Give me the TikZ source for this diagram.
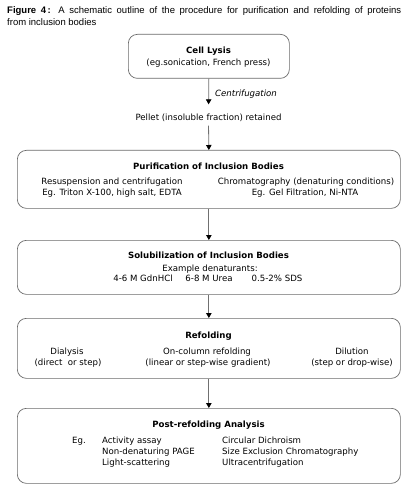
\documentclass[tikz,border=0pt]{standalone}
\usepackage{fontspec}
\setmainfont{DejaVu Sans}
\newfontfamily\capfont{Liberation Sans}
\usetikzlibrary{arrows.meta}
\definecolor{boxgray}{HTML}{6A6A6A}
\definecolor{arrgray}{HTML}{707070}
\begin{document}
\begin{tikzpicture}[x=1pt,y=-1pt,
  box/.style={draw=boxgray, rounded corners=9pt, line width=0.7pt, anchor=north west, inner sep=0pt},
  txt/.style={font=\fontsize{8.6}{10.5}\selectfont, inner sep=0pt, anchor=base},
  ttl/.style={font=\fontsize{8.6}{10.5}\selectfont\bfseries, inner sep=0pt, anchor=base},
  txtl/.style={txt, anchor=base west},
  arr/.style={draw=arrgray, line width=0.8pt, -{Triangle[length=5pt,width=5.5pt,color=black]}}]
\useasboundingbox (0,0) rectangle (414,494);
% caption
\node[anchor=north west, inner sep=0pt, text width=394pt, align=justify,
  font=\capfont\fontsize{9.5}{12}\selectfont] (cap) at (7,6)
  {\textbf{Figure 4\,:} A schematic outline of the procedure for purification and refolding of proteins\linebreak from inclusion bodies};
% boxes
\node[box, minimum width=161pt, minimum height=44pt] (b1) at (128,34) {};
\node[box, minimum width=383pt, minimum height=58pt] (b2) at (17,150) {};
\node[box, minimum width=383pt, minimum height=54pt] (b3) at (17,240) {};
\node[box, minimum width=383pt, minimum height=60pt] (b4) at (17,318) {};
\node[box, minimum width=383pt, minimum height=75pt] (b5) at (17,408) {};
% box 1
\node[ttl] (t1) at (208.5,54) {Cell Lysis};
\node[txt] (t1a) at (208.5,66) {(eg.sonication, French press)};
% pellet
\node[txt, anchor=center, text height=7pt, text depth=2pt] (pel) at (208.5,118) {Pellet (insoluble fraction) retained};
\node[txtl, font=\fontsize{8.6}{10.5}\selectfont\itshape] (cen) at (215,97) {Centrifugation};
% box 2
\node[ttl] (t2) at (208.5,170) {Purification of Inclusion Bodies};
\node[txt] (t2a) at (112,185) {Resuspension and centrifugation};
\node[txt] (t2b) at (112,195.5) {Eg. Triton X-100, high salt, EDTA};
\node[txt] (t2c) at (306,185) {Chromatography (denaturing conditions)};
\node[txt] (t2d) at (305,195.5) {Eg. Gel Filtration, Ni-NTA};
% box 3
\node[ttl] (t3) at (208.5,258) {Solubilization of Inclusion Bodies};
\node[txt] (t3a) at (210,271) {Example denaturants:};
\node[txt] (t3b) at (143,281.5) {4-6 M GdnHCl};
\node[txt] (t3c) at (209,281.5) {6-8 M Urea};
\node[txt] (t3d) at (277,281.5) {0.5-2\% SDS};
% box 4
\node[ttl] (t4) at (208.5,338.5) {Refolding};
\node[txt] (t4a) at (67,354) {Dialysis};
\node[txt] (t4b) at (68,365) {(direct\ \ or step)};
\node[txt] (t4c) at (207,354) {On-column refolding};
\node[txt] (t4d) at (208,365) {(linear or step-wise gradient)};
\node[txt] (t4e) at (352,354) {Dilution};
\node[txt] (t4f) at (352,365) {(step or drop-wise)};
% box 5
\node[ttl] (t5) at (208.5,427) {Post-refolding Analysis};
\node[txtl] (t5e) at (72,443) {Eg.};
\node[txtl] (t5a) at (102,443) {Activity assay};
\node[txtl] (t5b) at (102,454) {Non-denaturing PAGE};
\node[txtl] (t5c) at (102,465) {Light-scattering};
\node[txtl] (t5d) at (222,443) {Circular Dichroism};
\node[txtl] (t5f) at (222,454) {Size Exclusion Chromatography};
\node[txtl] (t5g) at (222,465) {Ultracentrifugation};
% arrows
\draw[arr, shorten >=9pt] (b1.south) -- (pel.north);
\draw[arr, shorten <=3pt] (pel.south) -- (b2.north);
\draw[arr] (b2.south) -- (b3.north);
\draw[arr] (b3.south) -- (b4.north);
\draw[arr] (b4.south) -- (b5.north);
\end{tikzpicture}
\end{document}
